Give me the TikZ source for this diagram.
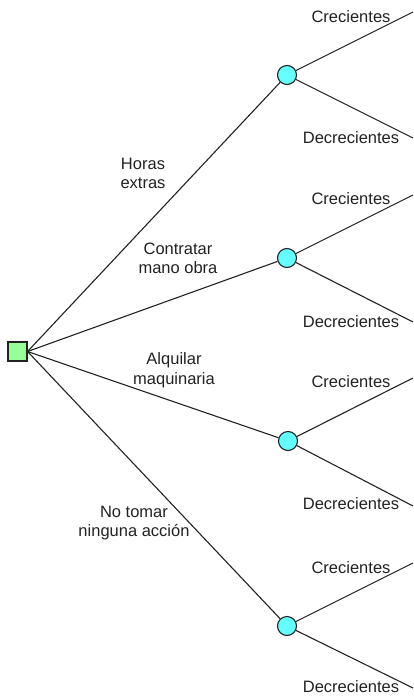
\documentclass[tikz,border=0pt]{standalone}
\usepackage{fontspec}
\setmainfont{Liberation Sans}
\definecolor{sqgreen}{HTML}{99FF99}
\definecolor{chance}{HTML}{66FFFF}
\definecolor{edgecol}{HTML}{222222}
\begin{document}
\begin{tikzpicture}[x=1pt,y=-1pt,
  decision/.style={draw=edgecol,fill=sqgreen,line width=1.1pt,minimum size=19pt,inner sep=0pt},
  chancenode/.style={circle,draw=edgecol,fill=chance,line width=1.1pt,minimum size=19pt,inner sep=0pt},
  branch/.style={draw=edgecol,line width=1.1pt},
  lbl/.style={font=\fontsize{16.5}{19.5}\selectfont,text=edgecol,align=center,inner sep=0pt}]
\useasboundingbox (0,0) rectangle (413,696);
\node[decision] (d) at (17.5,351.5) {};
\node[chancenode] (c1) at (287,75) {};
\node[chancenode] (c2) at (287,258) {};
\node[chancenode] (c3) at (288,441) {};
\node[chancenode] (c4) at (287,626) {};
\coordinate (e1a) at (413,12);
\coordinate (e1b) at (413,138);
\coordinate (e2a) at (413,195);
\coordinate (e2b) at (413,322);
\coordinate (e3a) at (413,378);
\coordinate (e3b) at (413,506);
\coordinate (e4a) at (413,563);
\coordinate (e4b) at (413,688);
\foreach \c in {c1,c2,c3,c4} {\draw[branch] (d.east) -- (\c);}
\foreach \c in {1,2,3,4} {
  \draw[branch] (c\c) -- (e\c a);
  \draw[branch] (c\c) -- (e\c b);
}
\node[lbl] (l1) at (143,173.5) {Horas\\extras};
\node[lbl] (l2) at (178,258.5) {Contratar\\mano obra};
\node[lbl] (l3) at (174,370) {Alquilar\\maquinaria};
\node[lbl] (l4) at (134,523) {No tomar\\ninguna acción};
\node[lbl] (u1) at (351,17) {Crecientes};
\node[lbl] (v1) at (351,138) {Decrecientes};
\node[lbl] (u2) at (351,199) {Crecientes};
\node[lbl] (v2) at (351,322) {Decrecientes};
\node[lbl] (u3) at (351,382) {Crecientes};
\node[lbl] (v3) at (351,504) {Decrecientes};
\node[lbl] (u4) at (351,568) {Crecientes};
\node[lbl] (v4) at (351,687) {Decrecientes};
\end{tikzpicture}
\end{document}
